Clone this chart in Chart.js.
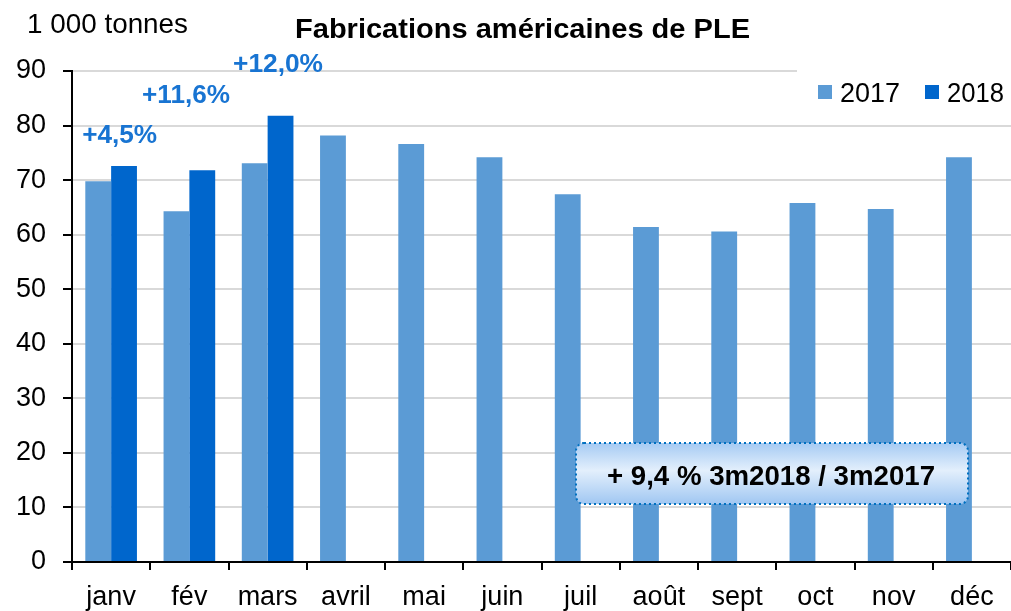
<!DOCTYPE html>
<html>
<head>
<meta charset="utf-8">
<script src="https://cdn.jsdelivr.net/npm/chart.js@4"></script>
<style>
  html, body { margin: 0; padding: 0; background: #fff; }
  #wrap { width: 1011px; height: 611px; position: relative; }
</style>
</head>
<body>
<div id="wrap"><canvas id="chartPLE"></canvas></div>
<script>
// Fabrications américaines de PLE — 1 000 tonnes
const months = ['janv', 'fév', 'mars', 'avril', 'mai', 'juin', 'juil', 'août', 'sept', 'oct', 'nov', 'déc'];
const prod2017 = [69.8, 64.3, 73.1, 78.2, 76.6, 74.2, 67.4, 61.4, 60.6, 65.8, 64.7, 74.2];
const prod2018 = [72.6, 71.8, 81.8, null, null, null, null, null, null, null, null, null];
const growthLabels = ['+4,5%', '+11,6%', '+12,0%'];
const yTicks = [0, 10, 20, 30, 40, 50, 60, 70, 80, 90];
const unitLabel = '1 000 tonnes';
const titleText = 'Fabrications américaines de PLE';
const boxText = '+ 9,4 % 3m2018 / 3m2017';

const COL_2017 = '#5B9BD5';
const COL_2018 = '#0066CC';
const FONT = "'Liberation Sans', Arial, sans-serif";

// squeeze or stretch a text to the width seen in the source
function fitText(ctx, text, x, y, width, align) {
  const w = ctx.measureText(text).width;
  const k = width / w;
  ctx.save();
  ctx.textAlign = 'left';
  const x0 = align === 'center' ? x - width / 2 : x;
  ctx.translate(x0, y);
  ctx.scale(k, 1);
  ctx.fillText(text, 0, 0);
  ctx.restore();
}

const decorPlugin = {
  id: 'decor',
  beforeDatasetsDraw(chart) {
    // legend sits over the top gridline
    const ctx = chart.ctx;
    ctx.save();
    ctx.fillStyle = '#fff';
    ctx.fillRect(797, 60, 220, 52);
    ctx.restore();
  },
  afterDatasetsDraw(chart) {
    const ctx = chart.ctx;
    const x = chart.scales.x;
    ctx.save();
    ctx.textBaseline = 'alphabetic';

    // growth labels over the 2018 bars
    const anchors = [{ dx: 8.5, base: 143, w: 75 }, { dx: -3.3, base: 103, w: 88 }, { dx: 10.4, base: 72, w: 90 }];
    ctx.font = 'bold 26px ' + FONT;
    ctx.fillStyle = '#1874D2';
    growthLabels.forEach(function (t, i) {
      fitText(ctx, t, x.getPixelForValue(i) + anchors[i].dx, anchors[i].base, anchors[i].w, 'center');
    });

    // summary box
    const bx = 576, by = 443, bw = 392, bh = 61, r = 8;
    const g = ctx.createLinearGradient(0, by, 0, by + bh);
    g.addColorStop(0, '#A6CBF3');
    g.addColorStop(0.45, '#E3EFFC');
    g.addColorStop(1, '#A0C7F2');
    ctx.beginPath();
    ctx.roundRect(bx, by, bw, bh, r);
    ctx.fillStyle = g;
    ctx.fill();
    ctx.setLineDash([2, 3]);
    ctx.lineWidth = 2;
    ctx.strokeStyle = '#0070C0';
    ctx.stroke();
    ctx.setLineDash([]);
    ctx.font = 'bold 28px ' + FONT;
    ctx.fillStyle = '#000';
    fitText(ctx, boxText, 771, 485, 328, 'center');

    // title and unit
    ctx.font = 'bold 27px ' + FONT;
    fitText(ctx, titleText, 295, 38, 455, 'left');
    ctx.font = '28px ' + FONT;
    fitText(ctx, unitLabel, 27, 33, 161, 'left');

    // legend
    ctx.font = '27px ' + FONT;
    ctx.fillStyle = COL_2017;
    ctx.fillRect(818, 85, 14, 14);
    ctx.fillStyle = '#000';
    fitText(ctx, '2017', 840, 102, 60, 'left');
    ctx.fillStyle = COL_2018;
    ctx.fillRect(925, 85, 14, 14);
    ctx.fillStyle = '#000';
    fitText(ctx, '2018', 947, 102, 57, 'left');
    ctx.restore();
  }
};

new Chart(document.getElementById('chartPLE').getContext('2d'), {
  type: 'bar',
  data: {
    labels: months,
    datasets: [
      { label: '2017', data: prod2017, backgroundColor: COL_2017, borderWidth: 0 },
      { label: '2018', data: prod2018, backgroundColor: COL_2018, borderWidth: 0 }
    ]
  },
  options: {
    responsive: true,
    maintainAspectRatio: false,
    animation: false,
    layout: { padding: { top: 71, right: 0, left: 0, bottom: 0 } },
    datasets: { bar: { categoryPercentage: 0.66, barPercentage: 1 } },
    plugins: {
      legend: { display: false },
      tooltip: { enabled: false }
    },
    scales: {
      x: {
        grid: { drawOnChartArea: false, tickLength: 8, tickColor: '#000', lineWidth: 2 },
        border: { color: '#000', width: 2 },
        ticks: { color: '#000', padding: 11, font: { family: FONT, size: 27 } },
        afterFit: function (s) { s.height = 49; }
      },
      y: {
        min: 0,
        max: 90,
        afterBuildTicks: function (s) { s.ticks = yTicks.map(function (v) { return { value: v }; }); },
        grid: { color: '#D9D9D9', lineWidth: 2, tickLength: 9, tickColor: '#000' },
        border: { color: '#000', width: 2 },
        ticks: { color: '#000', padding: 17, font: { family: FONT, size: 27 } },
        afterFit: function (s) { s.width = 72; }
      }
    }
  },
  plugins: [decorPlugin]
});
</script>
</body>
</html>
